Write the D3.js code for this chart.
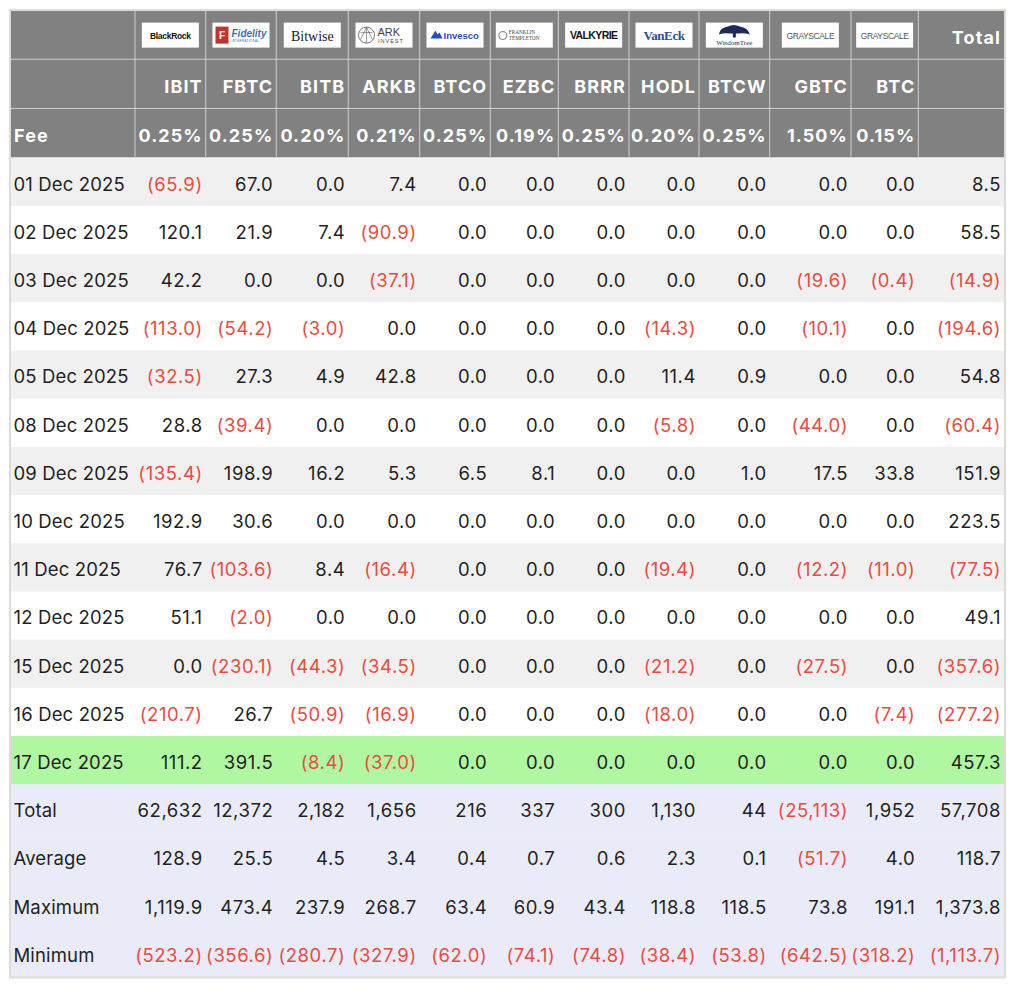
<!DOCTYPE html>
<html>
<head>
<meta charset="utf-8">
<script src="https://cdn.jsdelivr.net/npm/d3@7"></script>
<style>
  html, body { margin: 0; padding: 0; background: #fff; }
  #chart { width: 1024px; height: 992px; }
</style>
</head>
<body>
<div id="chart"></div>
<script>
/* ================================================
   Bitcoin ETF daily flows table (US$m)
   ================================================ */

var funds   = ['IBIT', 'FBTC', 'BITB', 'ARKB', 'BTCO', 'EZBC', 'BRRR', 'HODL', 'BTCW', 'GBTC', 'BTC'];
var issuers = ['BlackRock', 'Fidelity', 'Bitwise', 'ARK', 'Invesco', 'Franklin', 'Valkyrie', 'VanEck', 'WisdomTree', 'Grayscale', 'Grayscale'];
var fees    = ['0.25%', '0.25%', '0.20%', '0.21%', '0.25%', '0.19%', '0.25%', '0.20%', '0.25%', '1.50%', '0.15%'];

var dates = ['01 Dec 2025', '02 Dec 2025', '03 Dec 2025', '04 Dec 2025', '05 Dec 2025',
             '08 Dec 2025', '09 Dec 2025', '10 Dec 2025', '11 Dec 2025', '12 Dec 2025',
             '15 Dec 2025', '16 Dec 2025', '17 Dec 2025'];

// one row per date: 11 funds then the day total
var flows = [
  [-65.9,   67.0,   0.0,   7.4, 0.0, 0.0, 0.0,   0.0, 0.0,   0.0,   0.0,    8.5],
  [120.1,   21.9,   7.4, -90.9, 0.0, 0.0, 0.0,   0.0, 0.0,   0.0,   0.0,   58.5],
  [ 42.2,    0.0,   0.0, -37.1, 0.0, 0.0, 0.0,   0.0, 0.0, -19.6,  -0.4,  -14.9],
  [-113.0, -54.2,  -3.0,   0.0, 0.0, 0.0, 0.0, -14.3, 0.0, -10.1,   0.0, -194.6],
  [-32.5,   27.3,   4.9,  42.8, 0.0, 0.0, 0.0,  11.4, 0.9,   0.0,   0.0,   54.8],
  [ 28.8,  -39.4,   0.0,   0.0, 0.0, 0.0, 0.0,  -5.8, 0.0, -44.0,   0.0,  -60.4],
  [-135.4, 198.9,  16.2,   5.3, 6.5, 8.1, 0.0,   0.0, 1.0,  17.5,  33.8,  151.9],
  [192.9,   30.6,   0.0,   0.0, 0.0, 0.0, 0.0,   0.0, 0.0,   0.0,   0.0,  223.5],
  [ 76.7, -103.6,   8.4, -16.4, 0.0, 0.0, 0.0, -19.4, 0.0, -12.2, -11.0,  -77.5],
  [ 51.1,   -2.0,   0.0,   0.0, 0.0, 0.0, 0.0,   0.0, 0.0,   0.0,   0.0,   49.1],
  [  0.0, -230.1, -44.3, -34.5, 0.0, 0.0, 0.0, -21.2, 0.0, -27.5,   0.0, -357.6],
  [-210.7,  26.7, -50.9, -16.9, 0.0, 0.0, 0.0, -18.0, 0.0,   0.0,  -7.4, -277.2],
  [111.2,  391.5,  -8.4, -37.0, 0.0, 0.0, 0.0,   0.0, 0.0,   0.0,   0.0,  457.3]
];

var summaryLabels = ['Total', 'Average', 'Maximum', 'Minimum'];
var summary = [
  [62632, 12372, 2182, 1656, 216, 337, 300, 1130, 44, -25113, 1952, 57708],
  [128.9, 25.5, 4.5, 3.4, 0.4, 0.7, 0.6, 2.3, 0.1, -51.7, 4.0, 118.7],
  [1119.9, 473.4, 237.9, 268.7, 63.4, 60.9, 43.4, 118.8, 118.5, 73.8, 191.1, 1373.8],
  [-523.2, -356.6, -280.7, -327.9, -62.0, -74.1, -74.8, -38.4, -53.8, -642.5, -318.2, -1113.7]
];

// ---- layout ----
var W = 1024, H = 992;
var tLeft = 11, tRight = 1004, tTop = 10, headBottom = 157.7, tBottom = 977;
var colWidths = [124, 70.7, 70.6, 72, 71.4, 70.6, 68, 70.7, 70, 70.7, 81.3, 67.3, 85.7];
var colEdges = [tLeft].concat(Array.from(d3.cumsum(colWidths), function(c) { return tLeft + c; }));

var colKeys = ['label'].concat(funds, ['Total']);
var xLeft  = d3.scaleOrdinal().domain(colKeys).range(colEdges.slice(0, -1));
var xRight = d3.scaleOrdinal().domain(colKeys).range(colEdges.slice(1));

var headRows = ['logo', 'ticker', 'fee'];
var yHead = d3.scaleBand().domain(headRows).range([tTop, headBottom]);

var bodyRows = dates.concat(summaryLabels);
var yBody = d3.scaleBand().domain(bodyRows).range([headBottom, tBottom]);

var FONT = 'Inter, "Noto Sans", sans-serif';
var RED = '#ef4a3f', INK = '#1f1f1f';

var fmt1 = d3.format(',.1f'), fmt0 = d3.format(',.0f');
function fmtVal(v, f) {
  return v < 0 ? '(' + f(-v) + ')' : f(v);
}

var svg = d3.select('#chart')
  .append('svg')
  .attr('width', W).attr('height', H)
  .attr('viewBox', '0 0 ' + W + ' ' + H);

// ---- header ----
svg.append('rect')
  .attr('x', tLeft).attr('y', tTop)
  .attr('width', tRight - tLeft).attr('height', headBottom - tTop)
  .attr('fill', '#818181');

// header grid lines
colEdges.slice(1, -1).forEach(function(x) {
  svg.append('line')
    .attr('x1', x).attr('x2', x)
    .attr('y1', tTop).attr('y2', headBottom)
    .attr('stroke', '#cfcfcf').attr('stroke-width', 1);
});
headRows.forEach(function(r) {
  svg.append('line')
    .attr('x1', tLeft).attr('x2', tRight)
    .attr('y1', yHead(r) + yHead.bandwidth()).attr('y2', yHead(r) + yHead.bandwidth())
    .attr('stroke', '#cfcfcf').attr('stroke-width', 1);
});

// logos
function drawLogo(g, name, w, h) {
  g.append('rect').attr('width', w).attr('height', h).attr('fill', '#fff');
  var cx = w / 2;
  function t(txt, x, y, size, opts) {
    opts = opts || {};
    return g.append('text')
      .attr('x', x).attr('y', y)
      .attr('text-anchor', opts.anchor || 'middle')
      .attr('font-family', opts.family || 'Arial, "Liberation Sans", sans-serif')
      .attr('font-size', size)
      .attr('font-weight', opts.weight || 400)
      .attr('font-style', opts.style || 'normal')
      .attr('letter-spacing', opts.ls || 0)
      .attr('fill', opts.fill || '#111')
      .text(txt);
  }
  if (name === 'BlackRock') {
    t('BlackRock', cx, 16, 8.5, { weight: 700, ls: -0.3 });
  } else if (name === 'Fidelity') {
    g.append('rect').attr('x', 3).attr('y', 4).attr('width', 13).attr('height', 17).attr('fill', '#c0342c');
    t('F', 9.5, 16.5, 10, { weight: 700, fill: '#fff' });
    t('Fidelity', 19, 14, 10, { anchor: 'start', weight: 700, style: 'italic', fill: '#3d6fb0' });
    t('INTERNATIONAL', 19, 19.5, 3, { anchor: 'start', fill: '#3d6fb0', ls: 0.3 });
  } else if (name === 'Bitwise') {
    t('Bitwise', cx, 18, 14, { family: '"Liberation Serif", "DejaVu Serif", serif', fill: '#222' });
  } else if (name === 'ARK') {
    g.append('circle').attr('cx', 11).attr('cy', 12.5).attr('r', 8)
      .attr('fill', 'none').attr('stroke', '#555').attr('stroke-width', 0.8);
    g.append('path').attr('d', 'M5,17 L11,4.5 L17,17 M5,10 L17,10 M11,4.5 L11,20.5')
      .attr('fill', 'none').attr('stroke', '#555').attr('stroke-width', 0.6);
    t('ARK', 22, 13, 11, { anchor: 'start', fill: '#444' });
    t('INVEST', 22.5, 20.5, 5.5, { anchor: 'start', fill: '#444', ls: 1 });
  } else if (name === 'Invesco') {
    g.append('path').attr('d', 'M4,16 L9,8 L11,12 L13,10 L16,16 Z').attr('fill', '#1f4fc2');
    t('Invesco', 17, 16, 9.5, { anchor: 'start', weight: 700, fill: '#1f4fc2' });
  } else if (name === 'Franklin') {
    g.append('circle').attr('cx', 7).attr('cy', 13).attr('r', 4)
      .attr('fill', 'none').attr('stroke', '#777').attr('stroke-width', 1);
    t('FRANKLIN', 13, 11, 5.2, { anchor: 'start', family: '"Liberation Serif", serif', fill: '#444' });
    t('TEMPLETON', 13, 17, 5.2, { anchor: 'start', family: '"Liberation Serif", serif', fill: '#444' });
  } else if (name === 'Valkyrie') {
    t('VALKYRIE', cx, 16.5, 10.5, { weight: 700, ls: -0.6 });
  } else if (name === 'VanEck') {
    t('VanEck', cx, 17, 13, { family: '"Liberation Serif", "DejaVu Serif", serif', weight: 700, fill: '#2a4e9c', ls: -0.4 });
  } else if (name === 'WisdomTree') {
    g.append('path')
      .attr('d', 'M13,12 Q14,5 22,4 Q28,1 34,4 Q42,5 44,12 Q38,10 33,11 L30,11 L30,15 L27,15 L27,11 L24,11 Q18,10 13,12 Z')
      .attr('fill', '#1c2a5c');
    t('WisdomTree', cx, 22, 7, { family: '"Liberation Serif", serif', fill: '#1c2a5c' });
  } else if (name === 'Grayscale') {
    t('GRAYSCALE', cx, 16, 8.5, { fill: '#555', ls: -0.4 });
  }
}

var logoW = 57, logoH = 25;
funds.forEach(function(f, i) {
  var cx = (xLeft(f) + xRight(f)) / 2;
  var g = svg.append('g')
    .attr('transform', 'translate(' + (cx - logoW / 2) + ',' + (yHead('logo') + yHead.bandwidth() / 2 - logoH / 2 + 0.5) + ')');
  drawLogo(g, issuers[i], logoW, logoH);
});

function headText(txt, col, row, anchor) {
  svg.append('text')
    .attr('x', anchor === 'start' ? xLeft(col) + 3 : xRight(col) - 3)
    .attr('y', yHead(row) + 34)
    .attr('text-anchor', anchor || 'end')
    .attr('font-family', FONT)
    .attr('font-size', 18)
    .attr('font-weight', 700)
    .attr('letter-spacing', 1.1)
    .attr('fill', '#fff')
    .text(txt);
}

headText('Total', 'Total', 'logo');
funds.forEach(function(f, i) {
  headText(f, f, 'ticker');
  headText(fees[i], f, 'fee');
});
headText('Fee', 'label', 'fee', 'start');

// ---- body ----
var bodyData = dates.map(function(d, i) {
  return { label: d, values: flows[i], fill: i === dates.length - 1 ? '#b0f7a1' : (i % 2 === 0 ? '#f0f0f0' : '#ffffff'), f: fmt1 };
}).concat(summaryLabels.map(function(s, i) {
  return { label: s, values: summary[i], fill: '#e9ecf8', f: i === 0 ? fmt0 : fmt1 };
}));

var rows = svg.selectAll('g.row')
  .data(bodyData)
  .enter().append('g')
  .attr('class', 'row')
  .attr('transform', function(d) { return 'translate(0,' + yBody(d.label) + ')'; });

rows.append('rect')
  .attr('x', tLeft).attr('width', tRight - tLeft)
  .attr('height', yBody.bandwidth() + 0.5)
  .attr('fill', function(d) { return d.fill; });

rows.append('text')
  .attr('x', xLeft('label') + 2.5)
  .attr('y', 33)
  .attr('font-family', FONT)
  .attr('font-size', 18.5)
  .attr('letter-spacing', 0.15)
  .attr('fill', INK)
  .text(function(d) { return d.label; });

var valKeys = funds.concat(['Total']);
rows.each(function(d) {
  d3.select(this).selectAll('text.val')
    .data(d.values)
    .enter().append('text')
    .attr('class', 'val')
    .attr('x', function(v, j) { return xRight(valKeys[j]) - 3; })
    .attr('y', 33)
    .attr('text-anchor', 'end')
    .attr('font-family', FONT)
    .attr('font-size', 18.5)
    .attr('letter-spacing', 0.55)
    .attr('fill', function(v) { return v < 0 ? RED : INK; })
    .text(function(v) { return fmtVal(v, d.f); });
});

// outer border
svg.append('rect')
  .attr('x', tLeft - 1).attr('y', tTop)
  .attr('width', tRight - tLeft + 2).attr('height', tBottom - tTop + 0.5)
  .attr('fill', 'none')
  .attr('stroke', '#dcdcd4')
  .attr('stroke-width', 2);
</script>
</body>
</html>
